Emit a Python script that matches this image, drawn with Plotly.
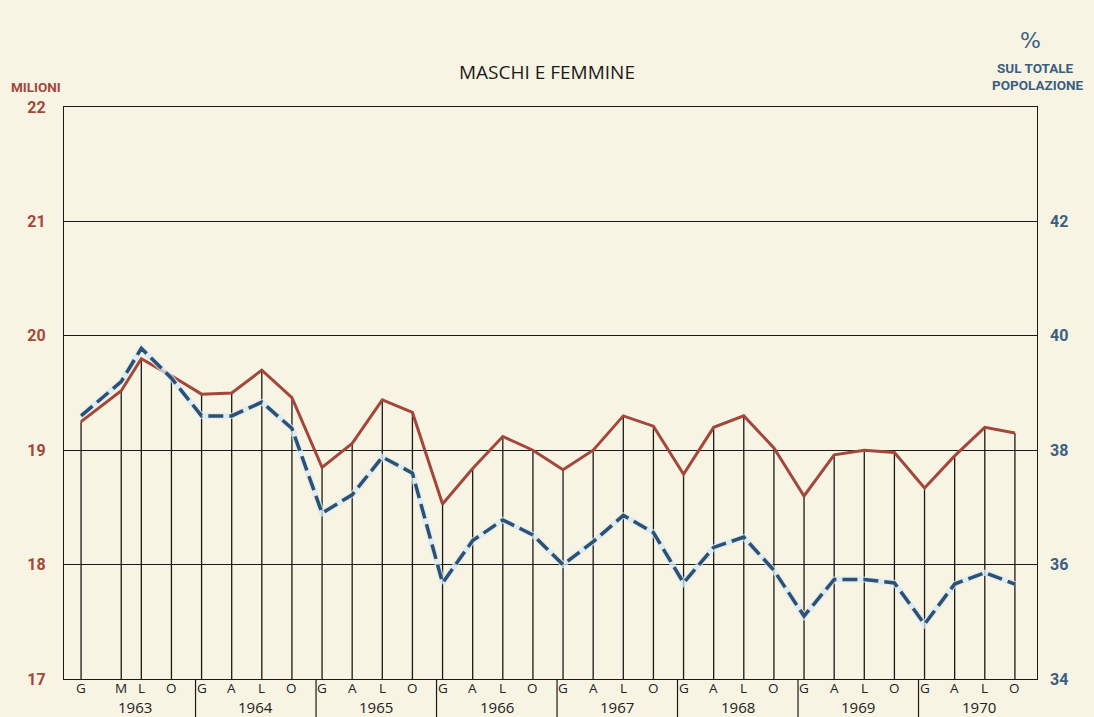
import plotly.graph_objects as go

# ---------------- data ----------------
years = [1963, 1964, 1965, 1966, 1967, 1968, 1969, 1970]
period_letters = [
    ["G", "M", "L", "O"],
    ["G", "A", "L", "O"],
    ["G", "A", "L", "O"],
    ["G", "A", "L", "O"],
    ["G", "A", "L", "O"],
    ["G", "A", "L", "O"],
    ["G", "A", "L", "O"],
    ["G", "A", "L", "O"],
]
# Gennaio, Aprile, Maggio, Luglio, Ottobre
month_number = {"G": 1, "A": 4, "M": 5, "L": 7, "O": 10}

# milioni (left axis, red solid)
milioni = [
    19.25, 19.52, 19.80, 19.65,
    19.49, 19.50, 19.70, 19.46,
    18.85, 19.06, 19.44, 19.33,
    18.53, 18.84, 19.12, 19.00,
    18.83, 19.00, 19.30, 19.21,
    18.79, 19.20, 19.30, 19.02,
    18.60, 18.96, 19.00, 18.98,
    18.67, 18.95, 19.20, 19.15,
]
# % sul totale popolazione (right axis, blue dashed)
percentuale = [
    38.60, 39.20, 39.78, 39.26,
    38.60, 38.60, 38.84, 38.38,
    36.90, 37.22, 37.88, 37.60,
    35.68, 36.42, 36.78, 36.52,
    36.00, 36.40, 36.86, 36.56,
    35.68, 36.30, 36.48, 35.90,
    35.10, 35.74, 35.74, 35.68,
    34.96, 35.66, 35.86, 35.66,
]
left_ticks = [17, 18, 19, 20, 21, 22]
right_ticks = [34, 36, 38, 40, 42]

# ---------------- derived ----------------
x_time = []
x_text = []
for yr, letters in zip(years, period_letters):
    for L in letters:
        x_time.append((yr - years[0]) * 12 + month_number[L] - 1)
        x_text.append(L)

RED = "#a3473a"
BLUE = "#2d5073"
BLUE_TXT = "#3c5f80"
BG = "#f8f4e3"
LEFT_MIN, LEFT_MAX = 17, 22
RIGHT_MIN, RIGHT_MAX = 34, 44

fig = go.Figure()

# vertical drop lines from the red series to the bottom of the chart
fig.add_trace(go.Scatter(
    x=x_time, y=milioni, mode="markers",
    marker=dict(size=0.1, color="rgba(0,0,0,0)"),
    error_y=dict(type="data", symmetric=False,
                 array=[0] * len(milioni),
                 arrayminus=[v - LEFT_MIN for v in milioni],
                 width=0, thickness=1.3, color="#1a1a1a"),
    hoverinfo="skip", showlegend=False,
))

# red solid series (milioni)
fig.add_trace(go.Scatter(
    x=x_time, y=milioni, mode="lines",
    line=dict(color=RED, width=3),
    name="Milioni", showlegend=False,
))

# blue halo + dashed series (% sul totale)
fig.add_trace(go.Scatter(
    x=x_time, y=percentuale, mode="lines", yaxis="y2",
    line=dict(color="rgba(214,232,243,0.75)", width=6),
    hoverinfo="skip", showlegend=False,
))
fig.add_trace(go.Scatter(
    x=x_time, y=percentuale, mode="lines", yaxis="y2",
    line=dict(color=BLUE, width=3.5, dash="15px,6px"),
    name="% sul totale popolazione", showlegend=False,
))

annotations = []
shapes = []

# period letters (first row of the label band)
for xt, lt in zip(x_time, x_text):
    annotations.append(dict(
        x=xt, y=-0.0149, xref="x", yref="paper", text=lt,
        showarrow=False, yanchor="middle", xanchor="center", borderpad=0,
        font=dict(family="Open Sans", size=13.5, color="#222222"),
    ))

# year labels and separators (second row)
for i, yr in enumerate(years):
    annotations.append(dict(
        x=i * 12 + 5.4, y=-0.0481, xref="x", yref="paper",
        text=str(yr), showarrow=False, yanchor="middle", xanchor="center",
        borderpad=0,
        font=dict(family="Open Sans", size=15, color="#222222"),
    ))
    if i < len(years) - 1:
        shapes.append(dict(
            type="line", xref="x", yref="paper",
            x0=(i + 1) * 12 - 0.6, x1=(i + 1) * 12 - 0.6, y0=0, y1=-0.08,
            line=dict(color="#1a1a1a", width=1.2),
        ))

annotations += [
    dict(x=0.496, y=1.061, xref="paper", yref="paper", text="MASCHI E FEMMINE",
         showarrow=False, xanchor="center", yanchor="middle",
         font=dict(family="Open Sans", size=19, color="#1a1a1a")),
    dict(x=-0.0288, y=1.035, xref="paper", yref="paper", text="<b>MILIONI</b>",
         showarrow=False, xanchor="center", yanchor="middle",
         font=dict(family="Roboto", size=13.5, color=RED)),
    dict(x=0.993, y=1.117, xref="paper", yref="paper", text="%",
         showarrow=False, xanchor="center", yanchor="middle",
         font=dict(family="DejaVu Sans", size=22, color=BLUE_TXT)),
    dict(x=0.998, y=1.068, xref="paper", yref="paper", text="<b>SUL TOTALE</b>",
         showarrow=False, xanchor="center", yanchor="middle",
         font=dict(family="Roboto", size=13.5, color=BLUE_TXT)),
    dict(x=1.001, y=1.038, xref="paper", yref="paper", text="<b>POPOLAZIONE</b>",
         showarrow=False, xanchor="center", yanchor="middle",
         font=dict(family="Roboto", size=13.5, color=BLUE_TXT)),
]

fig.update_layout(
    width=1094, height=717,
    margin=dict(l=64, r=57, t=107, b=38),
    paper_bgcolor=BG, plot_bgcolor=BG,
    showlegend=False,
    xaxis=dict(
        range=[-1.7, 95.2],
        showticklabels=False,
        ticks="", showgrid=False, zeroline=False,
        showline=True, linecolor="#1a1a1a", linewidth=1.4, mirror=True,
    ),
    yaxis=dict(
        range=[LEFT_MIN, LEFT_MAX],
        tickmode="array", tickvals=left_ticks,
        showgrid=True, gridcolor="#1a1a1a", gridwidth=1.2,
        zeroline=False, ticks="",
        showline=True, linecolor="#1a1a1a", linewidth=1.4, mirror=True,
        tickfont=dict(family="Roboto", size=16, color=RED, weight="bold"),
        ticklabelstandoff=14,
    ),
    yaxis2=dict(
        range=[RIGHT_MIN, RIGHT_MAX], overlaying="y", side="right",
        tickmode="array", tickvals=right_ticks,
        showgrid=False, zeroline=False, ticks="",
        tickfont=dict(family="Roboto", size=16, color=BLUE_TXT, weight="bold"),
        ticklabelstandoff=12,
    ),
    annotations=annotations,
    shapes=shapes,
)

fig.write_html(
    "out.html",
    config={"displayModeBar": False},
    post_script=("document.body.style.margin='0';"
                 "document.body.style.overflow='hidden';"
                 "document.body.style.background='" + BG + "';"),
)
